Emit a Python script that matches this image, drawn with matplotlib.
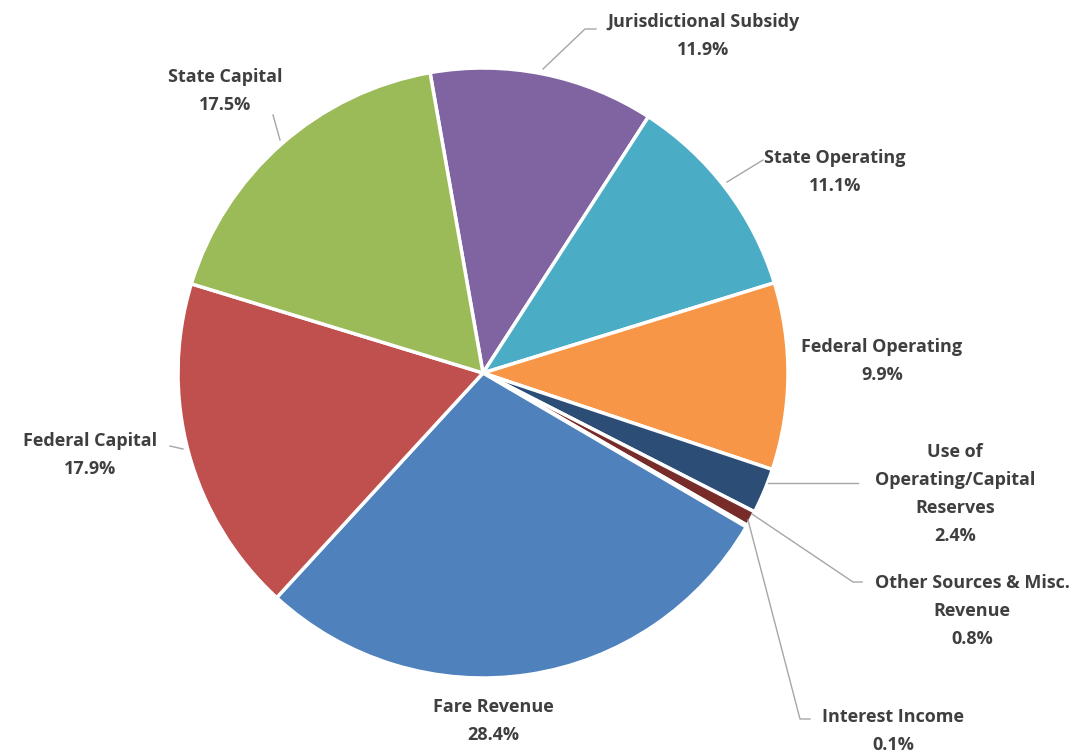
import matplotlib.pyplot as plt

# ---- data (clockwise from just left of 12 o'clock) ----
sources = ['Jurisdictional Subsidy', 'State Operating', 'Federal Operating',
           'Use of\nOperating/Capital\nReserves', 'Other Sources & Misc.\nRevenue',
           'Interest Income', 'Fare Revenue', 'Federal Capital', 'State Capital']
shares = [11.9, 11.1, 9.9, 2.4, 0.8, 0.1, 28.4, 17.9, 17.5]
colors = ['#8064A2', '#4BACC6', '#F79646', '#2C4D75', '#772C2A',
          '#5F7530', '#4F81BD', '#C0504D', '#9BBB59']

W, H = 1092, 755
fig = plt.figure(figsize=(W / 100, H / 100), dpi=100)
ax = fig.add_axes([0, 0, 1, 1])

cx, cy, r = 483, H - 373, 305
ax.pie(shares, colors=colors, startangle=100, counterclock=False,
       center=(cx, cy), radius=r, frame=True,
       wedgeprops=dict(edgecolor='white', linewidth=2.5))
ax.set_xlim(0, W)
ax.set_ylim(0, H)
ax.axis('off')

# label positions (pixel coords from top) and leader lines
txt = dict(fontsize=13, fontweight='bold', color='#3F3F3F', family='Open Sans',
           ha='center', va='center', linespacing=1.72)
lab = [(703, 36), (835, 172), (882, 361), (955, 494), (972, 611),
       (893, 731), (493, 721), (90, 455), (225, 91)]
leaders = {
    0: [(543, 69), (585, 29), (596, 29)],
    1: [(727, 182), (763, 160)],
    3: [(768, 483), (858, 483)],
    4: [(752, 514), (853, 582), (862, 582)],
    5: [(748, 520), (800, 719), (810, 719)],
    7: [(183, 449), (170, 446)],
    8: [(280, 140), (273, 115)],
}
for i, (name, val) in enumerate(zip(sources, shares)):
    x, y = lab[i]
    ax.text(x, H - y, f'{name}\n{val:.1f}%', **txt)
    if i in leaders:
        pts = leaders[i]
        ax.plot([p[0] for p in pts], [H - p[1] for p in pts],
                color='#A6A6A6', lw=1)

fig.savefig('out.png', dpi=100, facecolor='white')
